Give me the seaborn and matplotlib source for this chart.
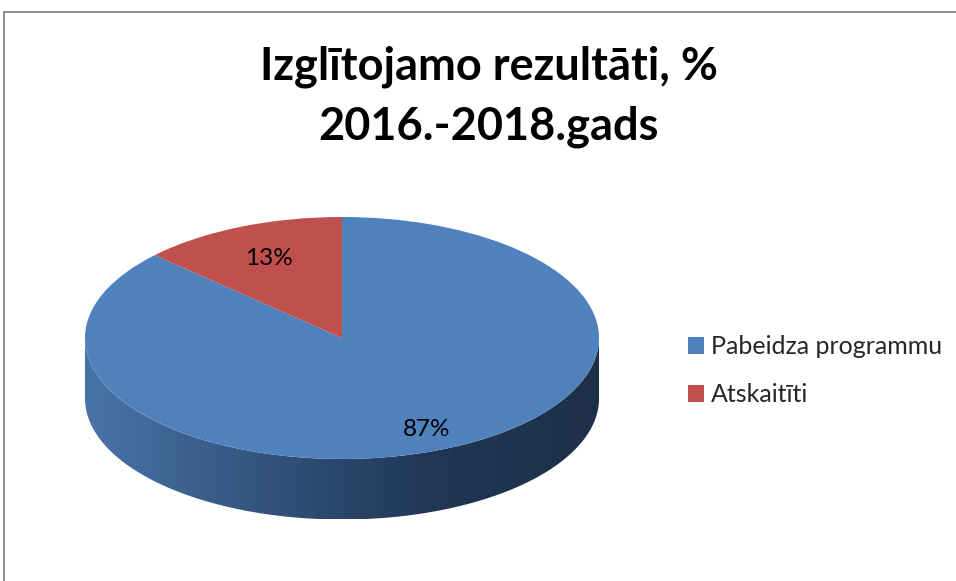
import numpy as np
import matplotlib
matplotlib.use('Agg')
import matplotlib.pyplot as plt
import seaborn as sns
from matplotlib.colors import LinearSegmentedColormap
from matplotlib.patches import Polygon
from matplotlib.lines import Line2D

sns.set_theme(style='white')
plt.rcParams['font.family'] = ['Lato', 'DejaVu Sans']

title = 'Izglītojamo rezultāti, %\n2016.-2018.gads'
labels = ['Pabeidza programmu', 'Atskaitīti']
values = [87, 13]
colors = ['#4f81bd', '#c0504d']
side_colors = [['#4a74a8', '#34557f', '#213756', '#1e3049'],
               ['#8c3836', '#6e2a28', '#5a2220', '#521f1d']]

depth = 0.5  # side height, in y-units of the flattened pie

W, H = 956, 581
fig = plt.figure(figsize=(W / 100, H / 100), dpi=100)

# axes sized so that the unit circle becomes a flat ellipse (257 x 121 px)
px_x, px_y = 257, 121
cx, cy = 342, 581 - 338
xlim = (-1.1, 1.1)
ylim = (-1.7, 1.2)
ax = fig.add_axes([(cx + xlim[0] * px_x) / W, (cy + ylim[0] * px_y) / H,
                   (xlim[1] - xlim[0]) * px_x / W, (ylim[1] - ylim[0]) * px_y / H])

wedges, texts, autotexts = ax.pie(values, colors=colors, startangle=90, counterclock=False,
                                  autopct='%1.0f%%', pctdistance=0.6,
                                  wedgeprops=dict(linewidth=0),
                                  textprops=dict(fontsize=17.5, color='black'))
ax.set_aspect('auto')
ax.set_xlim(*xlim)
ax.set_ylim(*ylim)
ax.axis('off')

# nudge the percent labels outwards like the perspective view does
for t, k in zip(autotexts, [1.38, 1.2]):
    x, y = t.get_position()
    t.set_position((x * k, y * k))


def in_wedge(a, w):
    t1 = w.theta1 % 360
    span = (w.theta2 - w.theta1)
    return ((a - t1) % 360) <= span + 1e-9


# side wall: the front half of the rim (180..360 deg), coloured per wedge
ang = np.linspace(180, 360, 721)
for w, sc in zip(wedges, side_colors):
    mask = np.array([in_wedge(a, w) for a in ang])
    if not mask.any():
        continue
    idx = np.where(mask)[0]
    runs = np.split(idx, np.where(np.diff(idx) != 1)[0] + 1)
    for r in runs:
        a = np.radians(ang[r])
        xs, ys = np.cos(a), np.sin(a)
        pts = np.vstack([np.column_stack([xs, ys]),
                         np.column_stack([xs[::-1], ys[::-1] - depth])])
        poly = Polygon(pts, closed=True, facecolor='none', edgecolor='none', zorder=0)
        ax.add_patch(poly)
        cmap = LinearSegmentedColormap.from_list('side', sc)
        grad = np.linspace(0, 1, 256).reshape(1, -1)
        im = ax.imshow(grad, cmap=cmap, aspect='auto', extent=(-1, 1, -1 - depth, 0),
                       zorder=0, interpolation='bilinear')
        im.set_clip_path(poly)

ax.set_xlim(*xlim)
ax.set_ylim(*ylim)

fig.text(489 / W, 1 - 97 / H, title, ha='center', va='center', fontsize=32.5,
         fontweight='bold', linespacing=1.5, color='black')

handles = [plt.Rectangle((0, 0), 1, 1, facecolor=c, edgecolor='none') for c in colors]
fig.legend(handles, labels, loc='center left', bbox_to_anchor=(665 / W, 1 - 371 / H),
           frameon=False, fontsize=18, handlelength=0.65, handleheight=0.65,
           handletextpad=0.3, labelspacing=1.0)

# chart-area frame (only top and left edges are visible in the crop)
fig.add_artist(Line2D([4 / W, 1], [1 - 12 / H, 1 - 12 / H], color='#868686', lw=1.3,
                      transform=fig.transFigure))
fig.add_artist(Line2D([4 / W, 4 / W], [0, 1 - 12 / H], color='#868686', lw=1.3,
                      transform=fig.transFigure))

fig.savefig('out.png', dpi=100)
